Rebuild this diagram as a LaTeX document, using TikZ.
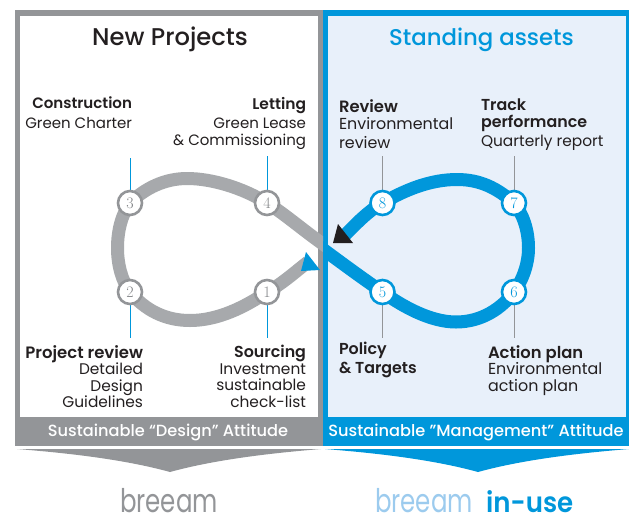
\documentclass[tikz,border=0pt]{standalone}
\usepackage{fontspec}
\usepackage{graphicx}
\setmainfont{Poppins}[BoldFont={Poppins SemiBold},BoldFeatures={Scale=1.03},Ligatures=TeX]
\newfontfamily\numfont{Latin Modern Roman}
\newfontfamily\mediumfont{Poppins Medium}[Ligatures=TeX]
\newfontfamily\logobold{Poppins SemiBold}
\definecolor{framegrey}{HTML}{939598}
\definecolor{loopgrey}{HTML}{A7A9AC}
\definecolor{blueline}{HTML}{0097DB}
\definecolor{panelblue}{HTML}{E8F0FA}
\definecolor{inktext}{HTML}{231F20}
\definecolor{logoblue}{HTML}{9CCBEE}
\newcommand{\bodysize}[1]{\fontsize{#1}{16.5}\selectfont}
\tikzset{
  body/.style={inner sep=0pt,outer sep=0pt,text=inktext,font=\bodysize{15.4}},
  rightblock/.style={body,align=right,anchor=north east},
  leftblock/.style={body,align=left,anchor=north west},
  heading/.style={inner sep=0pt,anchor=base},
  bandlabel/.style={inner sep=0pt,anchor=base,text=white,font=\mediumfont\fontsize{16.2}{16.5}\selectfont},
  stepgrey/.style={circle,draw=framegrey,fill=white,line width=2.6pt,minimum size=24pt,inner sep=0pt,text=framegrey!90!black,font=\numfont\fontsize{16}{16}\selectfont},
  stepblue/.style={circle,draw=blueline,fill=white,line width=2.6pt,minimum size=24pt,inner sep=0pt,text=blueline,font=\numfont\fontsize{16}{16}\selectfont},
  loopg/.style={draw=loopgrey,line width=13pt,line join=round},
  loopb/.style={draw=blueline,line width=13pt,line join=round},
  leadb/.style={draw=blueline,line width=0.8pt},
  leadg/.style={draw=framegrey,line width=0.8pt},
}
\begin{document}
\begin{tikzpicture}[x=1pt,y=-1pt]
\useasboundingbox (0,0) rectangle (629,515);
% panels
\fill[framegrey] (15,10) rectangle (323,446);
\fill[white] (20,16) rectangle (318,417);
\fill[blueline] (323,10) rectangle (629,446);
\fill[panelblue] (328,16) rectangle (626,417);
% chevrons
\fill[framegrey] (17,449) -- (321,449) .. controls (260,454) and (210,461) .. (170,472) .. controls (130,461) and (80,454) .. (17,449) -- cycle;
\fill[blueline] (325,449) -- (629,449) .. controls (568,454) and (518,461) .. (478,472) .. controls (438,461) and (388,454) .. (325,449) -- cycle;
% step positions
\path
  (267,292) coordinate (c1) (130,292) coordinate (c2) (130,203) coordinate (c3) (267,203) coordinate (c4)
  (382.5,292) coordinate (c5) (514,292) coordinate (c6) (514,203) coordinate (c7) (382.5,203) coordinate (c8);
\coordinate (gs) at (308,262);
\coordinate (ge) at (330,249);
\coordinate (bs) at (316,244);
\coordinate (be) at (345,235);
% grey loop
\begin{scope}
\clip (0,0) rectangle (323,515);
\draw[loopg] (gs) .. controls (295,272) and (282,284) .. (c1)
  .. controls (245,307) and (218,320.5) .. (190,320.5)
  .. controls (165,320.5) and (145,310) .. (c2)
  .. controls (122,281) and (117.5,265) .. (117.5,248)
  .. controls (117.5,230) and (122,214) .. (c3)
  .. controls (145,188) and (165,178.5) .. (187,178.5)
  .. controls (212,178.5) and (243,188) .. (c4)
  .. controls (285,214) and (305,232) .. (ge);
\end{scope}
% blue loop
\begin{scope}
\clip (323,0) rectangle (629,515);
\draw[loopb] (bs) .. controls (343,264) and (362,278) .. (c5)
  .. controls (402,306) and (430,322) .. (456,322)
  .. controls (482,322) and (502,308) .. (c6)
  .. controls (522,281) and (528.5,265) .. (528.5,248)
  .. controls (528.5,230) and (523,214) .. (c7)
  .. controls (497,188) and (480,179.5) .. (457,179.5)
  .. controls (430,179.5) and (405,190) .. (c8)
  .. controls (368,211) and (355,225) .. (be);
\end{scope}
% arrowheads
\fill[blueline] (306,252) -- (320,270) -- (301,271) -- cycle;
\fill[inktext] (338,224) -- (353,243) -- (333,243) -- cycle;
% leaders
\coordinate (l1) at (267,338); \coordinate (l2) at (130,338);
\coordinate (l3) at (130,158); \coordinate (l4) at (267,156);
\coordinate (l5) at (382.5,338); \coordinate (l6) at (514,338);
\coordinate (l7) at (514,156); \coordinate (l8) at (382.5,156);
\draw[leadb] (c1) -- (l1); \draw[leadb] (c2) -- (l2);
\draw[leadb] (c3) -- (l3); \draw[leadb] (c4) -- (l4);
\draw[leadg] (c5) -- (l5); \draw[leadg] (c6) -- (l6);
\draw[leadg] (c7) -- (l7); \draw[leadg] (c8) -- (l8);
% step circles
\node[stepgrey] (n1) at (c1) {1};
\node[stepgrey] (n2) at (c2) {2};
\node[stepgrey] (n3) at (c3) {3};
\node[stepgrey] (n4) at (c4) {4};
\node[stepblue] (n5) at (c5) {5};
\node[stepblue] (n6) at (c6) {6};
\node[stepblue] (n7) at (c7) {7};
\node[stepblue] (n8) at (c8) {8};
% headings
\node[heading,text=inktext,font=\mediumfont\fontsize{24.2}{26}\selectfont] (h1) at (170,45) {New Projects};
\node[heading,text=blueline,font=\mediumfont\fontsize{22.8}{26}\selectfont] (h2) at (481.5,45) {Standing assets};
% blocks
\node[rightblock,font=\bodysize{15}] (t3) at (132,97) {{\bodysize{14.6}\textbf{Construction}}\\[3pt]Green Charter};
\node[rightblock,font=\bodysize{15}] (t4) at (306,97) {\textbf{Letting}\\[3pt]Green Lease\\\&~Commissioning};
\node[leftblock,font=\bodysize{15.9}] (t8) at (339,100) {\textbf{Review}\\Environmental\\[3pt]review};
\node[leftblock] (t7) at (481,99) {\textbf{Track}\\\textbf{performance}\\[3pt]Quarterly report};
\node[rightblock] (t2) at (143,345.5) {{\bodysize{16}\textbf{Project review}}\\Detailed\\Design\\Guidelines};
\node[rightblock] (t1) at (306,345.5) {\textbf{Sourcing}\\Investment\\sustainable\\check-list};
\node[leftblock] (t5) at (339,342.5) {\textbf{Policy}\\[2pt]\textbf{\&~Targets}};
\node[leftblock,font=\bodysize{15.9}] (t6) at (488,345.5) {\textbf{Action plan}\\Environmental\\action plan};
% bands
\node[bandlabel] (b1) at (168,436) {Sustainable “Design” Attitude};
\node[bandlabel] (b2) at (476,436) {Sustainable "Management" Attitude};
% logos
\node[inner sep=0pt,anchor=base,text=framegrey] (lg1) at (169,512) {\scalebox{0.79}[1.05]{\fontsize{31}{31}\selectfont breeam}};
\node[inner sep=0pt,anchor=base,text=logoblue] (lg2) at (424,512) {\scalebox{0.79}[1.05]{\fontsize{31}{31}\selectfont breeam}};
\node[inner sep=0pt,anchor=base west,text=blueline] (lg3) at (486,512) {\scalebox{0.93}[1]{\logobold\fontsize{28}{28}\selectfont in-use}};
\end{tikzpicture}
\end{document}
